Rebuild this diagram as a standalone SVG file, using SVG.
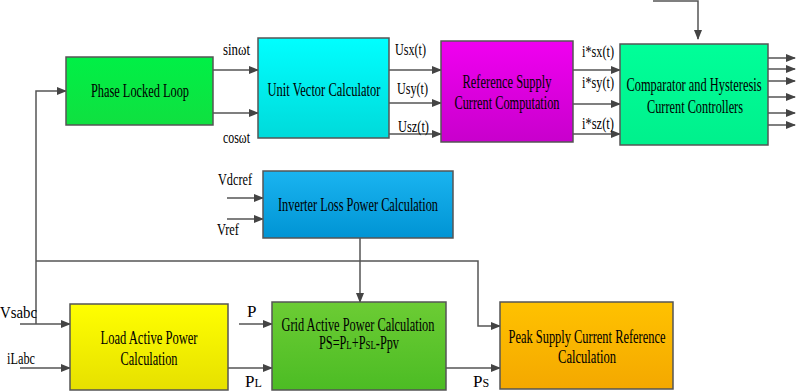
<svg xmlns="http://www.w3.org/2000/svg" width="796" height="392" viewBox="0 0 796 392">
<defs>
<style>
.box{stroke:#555;stroke-width:1.5}
.t{font-family:"Liberation Serif","Times New Roman",serif;font-size:18px;fill:#000;text-anchor:middle}
.l{font-family:"Liberation Serif","Times New Roman",serif;font-size:17px;fill:#000}
.c{fill:none;stroke:#555;stroke-width:1.5;marker-end:url(#ah)}
.n{fill:none;stroke:#555;stroke-width:1.5}
</style>
<marker id="ah" markerUnits="userSpaceOnUse" markerWidth="10" markerHeight="8" refX="9" refY="4" orient="auto"><path d="M0,0 L10,4 L0,8 z" fill="#444"/></marker>
<linearGradient id="gPLL" x1="0" y1="0" x2="0" y2="1"><stop offset="0" stop-color="#00f046"/><stop offset="1" stop-color="#10e040"/></linearGradient>
<linearGradient id="gUV" x1="0" y1="0" x2="0" y2="1"><stop offset="0" stop-color="#00ffff"/><stop offset="1" stop-color="#00dada"/></linearGradient>
<linearGradient id="gRef" x1="0" y1="0" x2="0" y2="1"><stop offset="0" stop-color="#f000f0"/><stop offset="1" stop-color="#c800cc"/></linearGradient>
<linearGradient id="gCmp" x1="0" y1="0" x2="0" y2="1"><stop offset="0" stop-color="#00ff99"/><stop offset="1" stop-color="#00f08c"/></linearGradient>
<linearGradient id="gInv" x1="0" y1="0" x2="0" y2="1"><stop offset="0" stop-color="#1ab4f0"/><stop offset="1" stop-color="#0094d4"/></linearGradient>
<linearGradient id="gLoad" x1="0" y1="0" x2="0" y2="1"><stop offset="0" stop-color="#ffff00"/><stop offset="1" stop-color="#e6e000"/></linearGradient>
<linearGradient id="gGrid" x1="0" y1="0" x2="0" y2="1"><stop offset="0" stop-color="#6ccc34"/><stop offset="1" stop-color="#4cbc24"/></linearGradient>
<linearGradient id="gPeak" x1="0" y1="0" x2="0" y2="1"><stop offset="0" stop-color="#ffc200"/><stop offset="1" stop-color="#f4a800"/></linearGradient>
</defs>
<rect width="796" height="392" fill="#fff"/>

<g id="connectors">
<path class="c" d="M20,324 H70"/>
<path class="c" d="M36,324 V91 H66"/>
<path class="c" d="M36,261 H478 V326 H500"/>
<path class="c" d="M20,368 H70"/>
<path class="c" d="M213,70 H258"/>
<path class="c" d="M213,113 H258"/>
<path class="c" d="M389,70 H441"/>
<path class="c" d="M389,103 H441"/>
<path class="c" d="M389,134 H441"/>
<path class="c" d="M573,70 H620"/>
<path class="c" d="M573,104 H620"/>
<path class="c" d="M573,134 H620"/>
<path class="c" d="M768,58 H795"/>
<path class="c" d="M768,69 H795"/>
<path class="c" d="M768,81 H795"/>
<path class="c" d="M768,97 H795"/>
<path class="c" d="M768,113 H795"/>
<path class="c" d="M768,125 H795"/>
<path class="c" d="M653,1 H698 V39"/>
<path class="c" d="M227,198 H263"/>
<path class="c" d="M227,219 H263"/>
<path class="c" d="M360,238 V302"/>
<path class="c" d="M239,324 H272"/>
<path class="c" d="M228,368 H272"/>
<path class="c" d="M446,368 H500"/>
</g>

<g id="labels">
<text class="l" x="223" y="55" textLength="27" lengthAdjust="spacingAndGlyphs">sinωt</text>
<text class="l" x="223" y="143" textLength="27" lengthAdjust="spacingAndGlyphs">cosωt</text>
<text class="l" x="395" y="55" textLength="31" lengthAdjust="spacingAndGlyphs">Usx(t)</text>
<text class="l" x="397" y="94" textLength="31" lengthAdjust="spacingAndGlyphs">Usy(t)</text>
<text class="l" x="398" y="132" textLength="31" lengthAdjust="spacingAndGlyphs">Usz(t)</text>
<text class="l" x="582" y="57" textLength="32" lengthAdjust="spacingAndGlyphs">i*sx(t)</text>
<text class="l" x="582" y="88" textLength="32" lengthAdjust="spacingAndGlyphs">i*sy(t)</text>
<text class="l" x="582" y="129" textLength="32" lengthAdjust="spacingAndGlyphs">i*sz(t)</text>
<text class="l" x="218" y="185" textLength="34" lengthAdjust="spacingAndGlyphs">Vdcref</text>
<text class="l" x="217" y="235" textLength="22" lengthAdjust="spacingAndGlyphs">Vref</text>
<text class="l" x="0" y="318" textLength="37" lengthAdjust="spacingAndGlyphs">Vsabc</text>
<text class="l" x="7" y="364" textLength="28" lengthAdjust="spacingAndGlyphs">iLabc</text>
<text class="l" x="247" y="317">P</text>
<text class="l" x="245" y="387">P<tspan font-size="12">L</tspan></text>
<text class="l" x="473" y="387">P<tspan font-size="12">S</tspan></text>
</g>

<g id="pll">
<rect class="box" x="66" y="57" width="147" height="68" fill="url(#gPLL)"/>
<text class="t" x="140" y="97" textLength="98" lengthAdjust="spacingAndGlyphs">Phase Locked Loop</text>
</g>
<g id="unit-vector">
<rect class="box" x="258" y="38" width="131" height="100" fill="url(#gUV)"/>
<text class="t" x="324" y="96" textLength="113" lengthAdjust="spacingAndGlyphs">Unit Vector Calculator</text>
</g>
<g id="reference">
<rect class="box" x="441" y="41" width="132" height="101" fill="url(#gRef)"/>
<text class="t" x="507" y="88" textLength="89" lengthAdjust="spacingAndGlyphs">Reference Supply</text>
<text class="t" x="507" y="109" textLength="105" lengthAdjust="spacingAndGlyphs">Current Computation</text>
</g>
<g id="comparator">
<rect class="box" x="620" y="44" width="148" height="101" fill="url(#gCmp)"/>
<text class="t" x="694" y="91" textLength="135" lengthAdjust="spacingAndGlyphs">Comparator and Hysteresis</text>
<text class="t" x="695" y="113" textLength="96" lengthAdjust="spacingAndGlyphs">Current Controllers</text>
</g>
<g id="inverter-loss">
<rect class="box" x="263" y="171" width="190" height="67" fill="url(#gInv)"/>
<text class="t" x="358" y="211" textLength="160" lengthAdjust="spacingAndGlyphs">Inverter Loss Power Calculation</text>
</g>
<g id="load-active">
<rect class="box" x="70" y="304" width="158" height="86" fill="url(#gLoad)"/>
<text class="t" x="149" y="344" textLength="97" lengthAdjust="spacingAndGlyphs">Load Active Power</text>
<text class="t" x="149" y="365" textLength="57" lengthAdjust="spacingAndGlyphs">Calculation</text>
</g>
<g id="grid-active">
<rect class="box" x="272" y="302" width="174" height="88" fill="url(#gGrid)"/>
<text class="t" x="358" y="331" textLength="153" lengthAdjust="spacingAndGlyphs">Grid Active Power Calculation</text>
<text class="t" x="359" y="349" textLength="80" lengthAdjust="spacingAndGlyphs">PS=P<tspan font-size="13">L</tspan>+P<tspan font-size="13">SL</tspan>-Ppv</text>
</g>
<g id="peak-supply">
<rect class="box" x="500" y="302" width="173" height="87" fill="url(#gPeak)"/>
<text class="t" x="587" y="343" textLength="157" lengthAdjust="spacingAndGlyphs">Peak Supply Current Reference</text>
<text class="t" x="587" y="363" textLength="58" lengthAdjust="spacingAndGlyphs">Calculation</text>
</g>
</svg>
